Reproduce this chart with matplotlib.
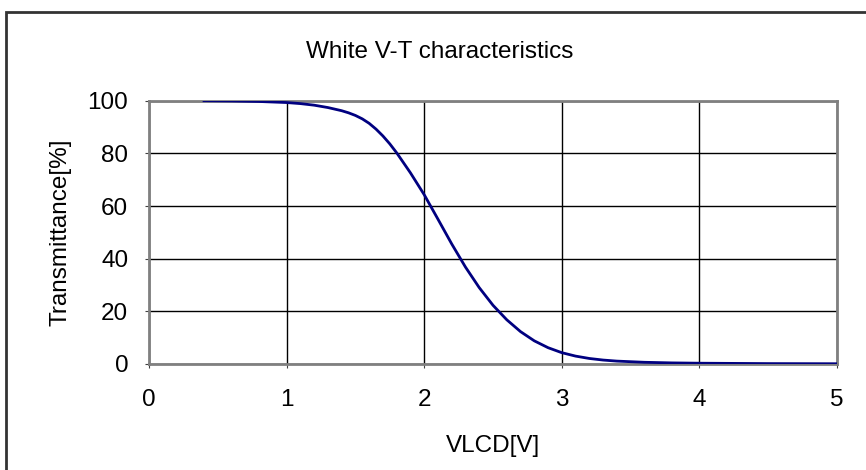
import numpy as np
import matplotlib
matplotlib.use("Agg")
import matplotlib.pyplot as plt
from matplotlib.patches import Rectangle

plt.rcParams['font.family'] = ['Liberation Sans', 'DejaVu Sans']

# White V-T curve
vlcd = [0.4, 0.6, 0.8, 1.0, 1.1, 1.2, 1.3, 1.4, 1.45, 1.5, 1.55, 1.6, 1.65, 1.7,
        1.75, 1.8, 1.9, 2.0, 2.1, 2.2, 2.3, 2.4, 2.5, 2.6, 2.7, 2.8, 2.9,
        3.0, 3.1, 3.2, 3.3, 3.4, 3.6, 3.8, 4.0, 4.5, 5.0]
transmittance = [100, 99.9, 99.7, 99.3, 98.9, 98.3, 97.4, 96.2, 95.4, 94.4,
                 93.1, 91.4, 89.2, 86.6, 83.6, 80.2, 72.6, 64.3, 55.0, 45.6,
                 36.8, 29.0, 22.3, 16.8, 12.3, 8.8, 6.2, 4.3, 3.0, 2.1, 1.5,
                 1.1, 0.65, 0.42, 0.3, 0.15, 0.1]
x_ticks = [0, 1, 2, 3, 4, 5]
y_ticks = [0, 20, 40, 60, 80, 100]

fig = plt.figure(figsize=(8.66, 4.70), dpi=100)
ax = fig.add_axes([149 / 866, 1 - 364 / 470, (837 - 149) / 866, (364 - 100.7) / 470])

ax.plot(vlcd, transmittance, color='#000080', lw=2, zorder=3,
        solid_joinstyle='round')

ax.set_xlim(0, 5)
ax.set_ylim(0, 100)
ax.set_xticks(x_ticks)
ax.set_yticks(y_ticks)
ax.grid(True, color='black', lw=1)
ax.tick_params(axis='both', labelsize=17.5, length=3, color='#404040')
ax.tick_params(axis='x', pad=15)
ax.tick_params(axis='y', pad=12)
for s in ax.spines.values():
    s.set_color('#808080')
    s.set_linewidth(2)

ax.set_xlabel('VLCD[V]', fontsize=17.5, va='center')
ax.xaxis.set_label_coords(0.5, (364 - 446) / 263.3)
ax.set_ylabel('Transmittance[%]', fontsize=17.5, va='center')
ax.yaxis.set_label_coords((61 - 149) / 688, 0.5)
fig.text(440 / 866, 1 - 52.5 / 470, 'White V-T characteristics',
         fontsize=17.5, ha='center', va='center')

# outer chart border
fig.patches.append(Rectangle((6 / 866, -0.1), 1.2, 1.1 - 12 / 470,
                             transform=fig.transFigure, fill=False,
                             edgecolor='#333333', lw=2))

fig.savefig('out.png', dpi=100)
